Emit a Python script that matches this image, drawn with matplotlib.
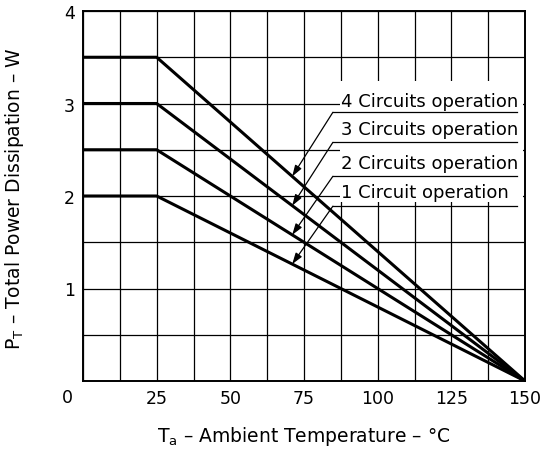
import numpy as np
import matplotlib
matplotlib.use("Agg")
import matplotlib.pyplot as plt
from matplotlib.patches import Rectangle

# derating curves: flat up to 25 degC, then linear down to 0 W at 150 degC
temp = [0, 25, 150]
p_4ch = [3.5, 3.5, 0.0]
p_3ch = [3.0, 3.0, 0.0]
p_2ch = [2.5, 2.5, 0.0]
p_1ch = [2.0, 2.0, 0.0]

labels = ["4 Circuits operation", "3 Circuits operation",
          "2 Circuits operation", "1 Circuit operation"]
series = [p_4ch, p_3ch, p_2ch, p_1ch]

x_ticks = [25, 50, 75, 100, 125, 150]
y_ticks = [1, 2, 3, 4]

# label layout (data coords)
text_x = 87.4
text_y = [2.975, 2.665, 2.30, 1.99]
under_y = [2.905, 2.58, 2.213, 1.89]
under_x0, under_x1 = 84.8, 147.2
tip_x = 71.0

plt.rcParams['font.family'] = ['DejaVu Sans']
plt.rcParams['mathtext.default'] = 'regular'

fig = plt.figure(figsize=(5.43, 4.56), dpi=100)
ax = fig.add_axes([83 / 543, 74 / 456, 442 / 543, 370 / 456])
ax.set_xlim(0, 150)
ax.set_ylim(0, 4)
ax.set_axisbelow(True)

ax.set_xticks(np.arange(0, 150.1, 12.5))
ax.set_xticklabels([str(int(v)) if v in x_ticks else "" for v in np.arange(0, 150.1, 12.5)])
ax.set_yticks(np.arange(0, 4.01, 0.5))
ax.set_yticklabels([str(int(v)) if v in y_ticks else "" for v in np.arange(0, 4.01, 0.5)])
ax.tick_params(length=0, labelsize=12.5)
ax.tick_params(axis='x', pad=6)
ax.tick_params(axis='y', pad=6)
ax.grid(True, color='black', lw=0.9)
for s in ax.spines.values():
    s.set_linewidth(1.4)

ax.text(-5.2, -0.17, "0", fontsize=12.5, ha='center', va='center', clip_on=False)

for p in series:
    ax.plot(temp, p, color='black', lw=2.2, zorder=3, solid_capstyle='butt')

# white box behind the labels
ax.add_patch(Rectangle((87.2, 1.93), 62.1, 1.31, facecolor='white',
                       edgecolor='none', zorder=1))

for lab, ty, uy, p in zip(labels, text_y, under_y, series):
    ax.text(text_x, ty, lab, fontsize=13, ha='left', va='baseline', zorder=4)
    ax.plot([under_x0, under_x1], [uy, uy], color='black', lw=0.9, zorder=4)
    tip_y = np.interp(tip_x, temp, p)
    ax.annotate('', xy=(tip_x, tip_y), xytext=(under_x0, uy),
                arrowprops=dict(arrowstyle='-|>,head_length=0.6,head_width=0.2',
                                lw=0.9, color='black', mutation_scale=11,
                                shrinkA=0, shrinkB=0), zorder=4)

ax.set_xlabel(r"T$_{a}$ – Ambient Temperature – °C", fontsize=13.5)
ax.set_ylabel(r"P$_{T}$ – Total Power Dissipation – W", fontsize=13.5)
ax.xaxis.set_label_coords(0.5, -0.115)
ax.yaxis.set_label_coords(-0.128, 0.495)

fig.savefig("out.png", dpi=100)
